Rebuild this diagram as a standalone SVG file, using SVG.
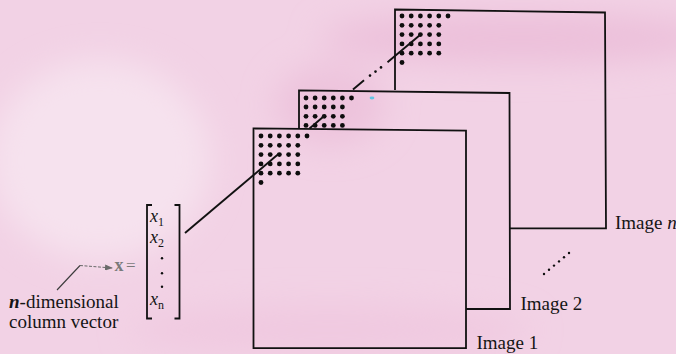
<svg xmlns="http://www.w3.org/2000/svg" width="676" height="354" viewBox="0 0 676 354">
  <style>
    .frame { fill: none; stroke: #111; stroke-width: 1.8; stroke-linejoin: miter; }
    .dot { fill: #0d0d0d; }
    .link { fill: none; stroke: #111; stroke-width: 1.9; stroke-linecap: butt; }
    text { font-family: 'Liberation Serif', 'Times New Roman', serif; fill: #151515; }
    .img { font-size: 19px; }
    .side { font-size: 19px; }
    .vec { font-size: 18px; font-style: italic; }
    .sub { font-size: 12px; font-style: normal; }
    .faint { fill: #7a7a7a; }
  </style>
  <defs>
    <filter id="soft" x="-50%" y="-50%" width="200%" height="200%">
      <feGaussianBlur stdDeviation="16"/>
    </filter>
    <g id="grid">
      <circle class="dot" cx="0" cy="0" r="2.4"/><circle class="dot" cx="9.2" cy="0" r="2.4"/><circle class="dot" cx="18.4" cy="0" r="2.4"/><circle class="dot" cx="27.6" cy="0" r="2.4"/><circle class="dot" cx="36.8" cy="0" r="2.4"/><circle class="dot" cx="46" cy="0" r="2.4"/>
      <circle class="dot" cx="0" cy="9.3" r="2.4"/><circle class="dot" cx="9.2" cy="9.3" r="2.4"/><circle class="dot" cx="18.4" cy="9.3" r="2.4"/><circle class="dot" cx="27.6" cy="9.3" r="2.4"/><circle class="dot" cx="36.8" cy="9.3" r="2.4"/>
      <circle class="dot" cx="0" cy="18.6" r="2.4"/><circle class="dot" cx="9.2" cy="18.6" r="2.4"/><circle class="dot" cx="18.4" cy="18.6" r="2.4"/><circle class="dot" cx="27.6" cy="18.6" r="2.4"/><circle class="dot" cx="36.8" cy="18.6" r="2.4"/>
      <circle class="dot" cx="0" cy="27.9" r="2.4"/><circle class="dot" cx="9.2" cy="27.9" r="2.4"/><circle class="dot" cx="18.4" cy="27.9" r="2.4"/><circle class="dot" cx="27.6" cy="27.9" r="2.4"/><circle class="dot" cx="36.8" cy="27.9" r="2.4"/>
      <circle class="dot" cx="0" cy="37.2" r="2.4"/><circle class="dot" cx="9.2" cy="37.2" r="2.4"/><circle class="dot" cx="18.4" cy="37.2" r="2.4"/><circle class="dot" cx="27.6" cy="37.2" r="2.4"/><circle class="dot" cx="36.8" cy="37.2" r="2.4"/>
      <circle class="dot" cx="0" cy="46.5" r="2.4"/>
    </g>
    <marker id="arr" markerWidth="8" markerHeight="6" refX="7" refY="3" orient="auto" markerUnits="userSpaceOnUse">
      <path d="M0,0 L8,3 L0,6 Z" fill="#6a6a6a"/>
    </marker>
  </defs>

  <!-- paper background -->
  <rect x="0" y="0" width="676" height="354" fill="#f2d2e5"/>
  <g filter="url(#soft)">
    <ellipse cx="100" cy="160" rx="110" ry="100" fill="#f6e2ee"/>
    <ellipse cx="520" cy="38" rx="200" ry="26" fill="#ecc0da"/>
    <ellipse cx="330" cy="105" rx="55" ry="40" fill="#edc3dc"/>
    <ellipse cx="330" cy="330" rx="200" ry="25" fill="#f0c9e0"/>
  </g>

  <!-- Image n (back) -->
  <g id="image-n">
    <polyline class="frame" points="395,90 395,9.5 605,12.5 606,228.3 510,228.3"/>
    <use href="#grid" x="402" y="16"/>
    <text class="img" x="615" y="228.5" font-family="'Liberation Serif', serif">Image <tspan font-style="italic">n</tspan></text>
  </g>

  <!-- Image 2 (middle) -->
  <g id="image-2">
    <polyline class="frame" points="299,128.5 299,90.3 509.5,93 510,309 466,309"/>
    <circle class="dot" cx="306" cy="98" r="2.4"/><circle class="dot" cx="315.1" cy="98" r="2.4"/><circle class="dot" cx="324.2" cy="98" r="2.4"/><circle class="dot" cx="333.3" cy="98" r="2.4"/><circle class="dot" cx="342.4" cy="98" r="2.4"/><circle class="dot" cx="351.5" cy="98" r="2.4"/>
    <circle class="dot" cx="306" cy="107" r="2.4"/><circle class="dot" cx="315.1" cy="107" r="2.4"/><circle class="dot" cx="324.2" cy="107" r="2.4"/><circle class="dot" cx="333.3" cy="107" r="2.4"/><circle class="dot" cx="342.4" cy="107" r="2.4"/>
    <circle class="dot" cx="306" cy="116.3" r="2.4"/><circle class="dot" cx="315.1" cy="116.3" r="2.4"/><circle class="dot" cx="324.2" cy="116.3" r="2.4"/><circle class="dot" cx="333.3" cy="116.3" r="2.4"/><circle class="dot" cx="342.4" cy="116.3" r="2.4"/>
    <circle class="dot" cx="306" cy="125.4" r="2.4"/><circle class="dot" cx="315.1" cy="125.4" r="2.4"/><circle class="dot" cx="324.2" cy="125.4" r="2.4"/><circle class="dot" cx="333.3" cy="125.4" r="2.4"/><circle class="dot" cx="342.4" cy="125.4" r="2.4"/>
    <text class="img" x="520.5" y="310" font-family="'Liberation Serif', serif">Image 2</text>
  </g>

  <!-- Image 1 (front) -->
  <g id="image-1">
    <polygon class="frame" points="253.5,128.3 466,130.7 466,348.2 253.5,348.2"/>
    <use href="#grid" x="261" y="136"/>
    <text class="img" x="476.5" y="348.5" font-family="'Liberation Serif', serif">Image 1</text>
  </g>

  <!-- ellipsis between image 2 and image n -->
  <g id="ellipsis" class="dot">
    <circle cx="544" cy="274" r="1.2"/><circle cx="549" cy="269.8" r="1.2"/><circle cx="554" cy="265.6" r="1.2"/><circle cx="559" cy="261.4" r="1.2"/><circle cx="564" cy="257.2" r="1.2"/><circle cx="569" cy="253" r="1.2"/>
  </g>

  <!-- small cyan scan mark -->
  <ellipse cx="372" cy="98" rx="2.4" ry="1.4" fill="#62c6e4"/>

  <!-- column vector -->
  <g id="vector">
    <path class="frame" d="M152,205 H147 V318.5 H152" stroke-width="1.6"/>
    <path class="frame" d="M174.5,205 H179.5 V318.5 H174.5" stroke-width="1.6"/>
    <text class="vec" x="150" y="222" font-family="'Liberation Serif', serif">x<tspan class="sub" dy="4">1</tspan></text>
    <text class="vec" x="150" y="242.5" font-family="'Liberation Serif', serif">x<tspan class="sub" dy="4">2</tspan></text>
    <circle class="dot" cx="162" cy="258.3" r="1.2"/>
    <circle class="dot" cx="162" cy="273.3" r="1.2"/>
    <circle class="dot" cx="162" cy="286.7" r="1.2"/>
    <text class="vec" x="150" y="305" font-family="'Liberation Serif', serif">x<tspan class="sub" font-style="italic" dy="4">n</tspan></text>
    <text class="faint" x="114.5" y="271" font-size="18" font-weight="bold" font-family="'Liberation Serif', serif">x</text>
    <text class="faint" x="126" y="271" font-size="17" font-family="'Liberation Serif', serif">=</text>
  </g>

  <!-- side label -->
  <g id="label">
    <text class="side" x="9" y="307.5" font-family="'Liberation Serif', serif"><tspan font-weight="bold" font-style="italic">n</tspan>-dimensional</text>
    <text class="side" x="9" y="327.5" fill="#2a2a2a" font-family="'Liberation Serif', serif">column vector</text>
  </g>

  <!-- connectors -->
  <g id="connectors">
    <path d="M57,290 L80,265.5" fill="none" stroke="#3a3a3a" stroke-width="1.1"/>
    <path d="M80,265.5 L112,268" fill="none" stroke="#6a6a6a" stroke-width="1" stroke-dasharray="3,1.5" marker-end="url(#arr)"/>
    <path class="link" d="M185,233 L279,153.5"/>
    <path class="link" d="M309.5,128.5 L325,115.2"/>
    <path class="link" d="M353,89.5 L364,80.3"/>
    <circle class="dot" cx="370" cy="75.6" r="1.3"/>
    <circle class="dot" cx="375.5" cy="71.6" r="1.3"/>
    <circle class="dot" cx="381" cy="67.4" r="1.3"/>
    <path class="link" d="M387.5,62.3 L420,35"/>
  </g>
</svg>
